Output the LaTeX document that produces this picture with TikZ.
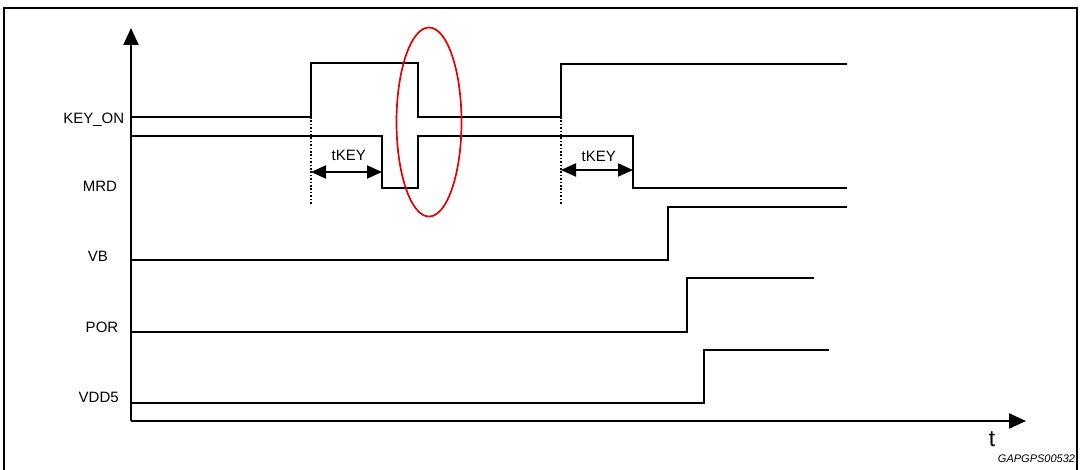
\documentclass[tikz,border=0pt]{standalone}
\usepackage{fontspec}
\setmainfont{Liberation Sans}
\usetikzlibrary{arrows.meta}

\begin{document}
\begin{tikzpicture}[x=1pt,y=-1pt,
	sig/.style={line width=2pt},
	axis/.style={line width=2.2pt,-{Triangle[length=17pt,width=15pt]}},
	dotline/.style={line width=2.5pt,dash pattern=on 1.7pt off 1.7pt},
	tkey/.style={line width=2pt,{Triangle[length=15pt,width=13pt]}-{Triangle[length=15pt,width=13pt]}},
	lbl/.style={anchor=base,inner sep=0pt,font=\fontsize{15}{17}\selectfont}]
	\definecolor{ringred}{RGB}{230,0,0}
	\useasboundingbox (0,0) rectangle (1080,470);

	\draw[line width=2.2pt] (4,480) -- (4,8) -- (1077,8) -- (1077,480);

	\draw[axis] (131,421) -- (131,28);
	\draw[axis] (131,421) -- (1026,421);

	% signal names
	\node[lbl] (keyon) at (93.7,124) {KEY\_ON};
	\node[lbl] (mrd) at (100,192) {MRD};
	\node[lbl] (vb) at (97.8,262) {VB};
	\node[lbl] (por) at (102,333) {POR};
	\node[lbl] (vdd) at (98.7,403) {VDD5};

	% edges where tKEY starts and ends
	\coordinate (kup1) at (311,117);
	\coordinate (kup2) at (561,117);
	\coordinate (mdn1) at (382,172);
	\coordinate (mdn2) at (633,170);

	\draw[sig] (131,117) -- (kup1) -- (311,63) -- (418,63) -- (418,117) -- (kup2) -- (561,64) -- (847,64);
	\draw[sig] (131,136) -- (382,136) -- (382,188) -- (418,188) -- (418,136) -- (633,136) -- (633,188) -- (847,188);
	\draw[sig] (131,260) -- (668,260) -- (668,207) -- (847,207);
	\draw[sig] (131,332) -- (687,332) -- (687,278) -- (814,278);
	\draw[sig] (131,403) -- (704,403) -- (704,350) -- (829,350);

	\draw[dotline] (kup1) -- (311,204);
	\draw[dotline] (kup2) -- (561,204);

	\draw[tkey] (311,172) -- (mdn1);
	\draw[tkey] (561,170) -- (mdn2);
	\node[lbl] (tkey1) at (348.7,161) {tKEY};
	\node[lbl] (tkey2) at (598.7,161.5) {tKEY};

	\draw[ringred,line width=1.7pt] (429,122) ellipse [x radius=32.5pt, y radius=94.5pt];

	\node[anchor=base,inner sep=0pt,font=\fontsize{23}{25}\selectfont] (t) at (992,447) {t};
	\node[anchor=base,inner sep=0pt,font=\fontsize{11}{12}\selectfont\itshape] (code) at (1036.5,463) {GAPGPS00532};
\end{tikzpicture}
\end{document}
